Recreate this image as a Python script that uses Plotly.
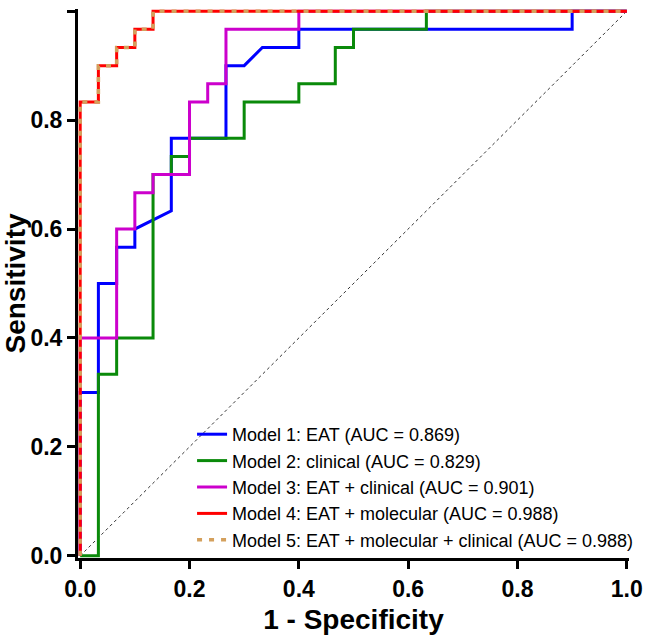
import plotly.graph_objects as go

# ROC curve points (x = 1 - specificity, y = sensitivity)
m1_fpr = [0, 0, 0.0333, 0.0333, 0.0667, 0.0667, 0.1, 0.1, 0.1667, 0.1667, 0.2667, 0.2667,
          0.3, 0.3333, 0.4, 0.4, 0.9, 0.9, 1]
m1_tpr = [0, 0.3, 0.3, 0.5, 0.5, 0.5667, 0.5667, 0.6, 0.6333, 0.7667, 0.7667, 0.9,
          0.9, 0.9333, 0.9333, 0.9667, 0.9667, 1, 1]

m2_fpr = [0, 0.0333, 0.0333, 0.0667, 0.0667, 0.1333, 0.1333, 0.1667, 0.1667, 0.2, 0.2,
          0.3, 0.3, 0.4, 0.4, 0.4667, 0.4667, 0.5, 0.5, 0.6333, 0.6333, 1]
m2_tpr = [0, 0, 0.3333, 0.3333, 0.4, 0.4, 0.7, 0.7, 0.7333, 0.7333, 0.7667,
          0.7667, 0.8333, 0.8333, 0.8667, 0.8667, 0.9333, 0.9333, 0.9667, 0.9667, 1, 1]

m3_fpr = [0, 0, 0.0667, 0.0667, 0.1, 0.1, 0.1333, 0.1333, 0.2, 0.2, 0.2333, 0.2333,
          0.2667, 0.2667, 0.4, 0.4, 1]
m3_tpr = [0, 0.4, 0.4, 0.6, 0.6, 0.6667, 0.6667, 0.7, 0.7, 0.8333, 0.8333, 0.8667,
          0.8667, 0.9667, 0.9667, 1, 1]

m4_fpr = [0, 0, 0.0333, 0.0333, 0.0667, 0.0667, 0.1, 0.1, 0.1333, 0.1333, 1]
m4_tpr = [0, 0.8333, 0.8333, 0.9, 0.9, 0.9333, 0.9333, 0.9667, 0.9667, 1, 1]

m5_fpr = [0, 0, 0.0333, 0.0333, 0.0667, 0.0667, 0.1, 0.1, 0.1333, 0.1333, 1]
m5_tpr = [0, 0.8333, 0.8333, 0.9, 0.9, 0.9333, 0.9333, 0.9667, 0.9667, 1, 1]

diag_x = [0, 1]
diag_y = [0, 1]

model_names = [
    "Model 1: EAT (AUC = 0.869)",
    "Model 2: clinical (AUC = 0.829)",
    "Model 3: EAT + clinical (AUC = 0.901)",
    "Model 4: EAT + molecular (AUC = 0.988)",
    "Model 5: EAT + molecular + clinical (AUC = 0.988)",
]
model_colors = ["#0000FF", "#0A8A0A", "#CC00CC", "#FF0000", "#D4A05C"]

x_ticks = [0, 0.2, 0.4, 0.6, 0.8, 1.0]
y_ticks = [0, 0.2, 0.4, 0.6, 0.8, 1.0]

FONT = "Liberation Sans, Arial, sans-serif"

fig = go.Figure()
fig.add_trace(go.Scatter(x=diag_x, y=diag_y, mode="lines", showlegend=False,
                         line=dict(color="#333333", width=1, dash="dot"), hoverinfo="skip"))

series = [(m1_fpr, m1_tpr), (m2_fpr, m2_tpr), (m3_fpr, m3_tpr), (m4_fpr, m4_tpr), (m5_fpr, m5_tpr)]
for i, ((xs, ys), name, col) in enumerate(zip(series, model_names, model_colors)):
    if i == 4:
        line = dict(color=col, width=3.5, dash="5px,7px")
    else:
        line = dict(color=col, width=3)
    fig.add_trace(go.Scatter(x=xs, y=ys, mode="lines", name=name, line=line,
                             legendgroup=f"g{i}"))

axis_common = dict(
    showline=True, linecolor="black", linewidth=3,
    ticks="outside", ticklen=8, tickwidth=2.5, tickcolor="black",
    showgrid=False, zeroline=False, layer="below traces",
    tickfont=dict(family=FONT, size=23, color="black", weight="bold"),
    tickformat=".1f",
)

fig.update_layout(
    width=646, height=637,
    margin=dict(l=78, r=17, t=9, b=79, autoexpand=False),
    paper_bgcolor="white", plot_bgcolor="white",
    xaxis=dict(range=[-0.004, 1.004], tickvals=x_ticks,
               title=dict(text="1 - Specificity", font=dict(family=FONT, size=28, color="black", weight="bold"), standoff=9),
               **axis_common),
    yaxis=dict(range=[-0.004, 1.004], tickvals=y_ticks,
               title=dict(text="Sensitivity", font=dict(family=FONT, size=28, color="black", weight="bold"), standoff=6),
               **axis_common),
    legend=dict(x=0.207, y=0.0, xanchor="left", yanchor="bottom",
                bgcolor="rgba(0,0,0,0)", font=dict(family=FONT, size=18, color="black"),
                traceorder="grouped", tracegroupgap=0, itemwidth=30),
    showlegend=True,
)

fig.write_html("out.html")
